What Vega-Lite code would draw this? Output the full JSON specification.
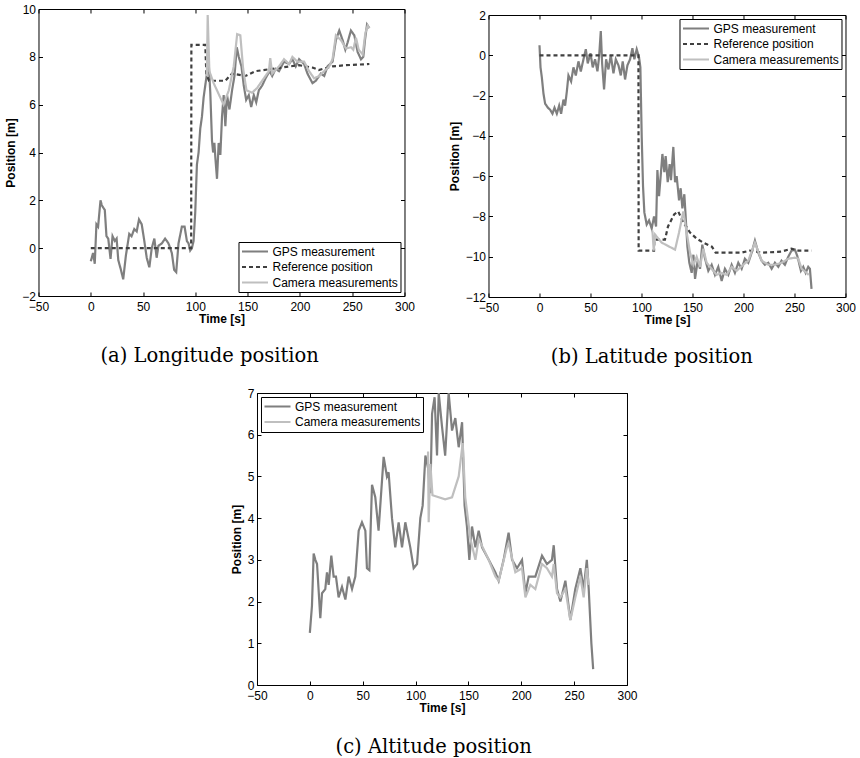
{
  "$schema": "https://vega.github.io/schema/vega-lite/v6.json",
  "background": "white",
  "padding": {"left": 4, "top": 3, "right": 0, "bottom": 0},
  "config": {
    "font": "Liberation Sans",
    "view": {"stroke": null},
    "axis": {"labelFont": "Liberation Sans", "labelFontSize": 12, "labelColor": "black", "titleFont": "Liberation Sans", "titleFontSize": 12, "titleFontWeight": "bold", "titleColor": "black", "domainColor": "black", "domainWidth": 1, "tickColor": "black", "tickSize": -4, "tickWidth": 1, "grid": false, "labelOverlap": false, "labelFlush": false, "labelBound": false},
    "axisX": {"labelPadding": 9, "titlePadding": 1},
    "axisY": {"labelPadding": 7, "titlePadding": 4},
    "legend": {"labelFont": "Liberation Sans", "labelFontSize": 12, "labelColor": "black", "symbolSize": 676, "symbolStrokeWidth": 2.2, "symbolType": "stroke", "clipHeight": 15, "rowPadding": 0.5, "padding": 2, "strokeColor": "black", "fillColor": "white", "offset": 4, "labelOffset": 3, "symbolOffset": 0, "cornerRadius": 0, "labelLimit": 400},
    "title": {"font": "DejaVu Serif", "fontSize": 19.5, "fontWeight": "normal", "color": "black", "orient": "bottom", "anchor": "middle", "frame": "bounds", "offset": 23}
  },
  "datasets": {
    "lon": [
      {"t":0,"v":-0.55,"s":"GPS measurement"},{"t":2.2,"v":-0.2,"s":"GPS measurement"},{"t":3.8,"v":-0.65,"s":"GPS measurement"},{"t":5.4,"v":1.0,"s":"GPS measurement"},{"t":7,"v":0.9,"s":"GPS measurement"},{"t":9.3,"v":2.0,"s":"GPS measurement"},{"t":10.5,"v":1.8,"s":"GPS measurement"},{"t":11.8,"v":1.7,"s":"GPS measurement"},{"t":13.4,"v":1.6,"s":"GPS measurement"},{"t":15,"v":0.5,"s":"GPS measurement"},{"t":16.7,"v":0.4,"s":"GPS measurement"},{"t":18.9,"v":-0.45,"s":"GPS measurement"},{"t":20.8,"v":0.5,"s":"GPS measurement"},{"t":23,"v":0.3,"s":"GPS measurement"},{"t":24.7,"v":0.4,"s":"GPS measurement"},{"t":26.3,"v":-0.5,"s":"GPS measurement"},{"t":28.8,"v":-0.9,"s":"GPS measurement"},{"t":31,"v":-1.3,"s":"GPS measurement"},{"t":33.6,"v":-0.3,"s":"GPS measurement"},{"t":36.8,"v":0.6,"s":"GPS measurement"},{"t":39,"v":0.5,"s":"GPS measurement"},{"t":41.6,"v":0.8,"s":"GPS measurement"},{"t":43.9,"v":0.7,"s":"GPS measurement"},{"t":46.1,"v":1.2,"s":"GPS measurement"},{"t":48.7,"v":1.0,"s":"GPS measurement"},{"t":51.2,"v":0.3,"s":"GPS measurement"},{"t":53.5,"v":-0.4,"s":"GPS measurement"},{"t":56,"v":-0.8,"s":"GPS measurement"},{"t":58.3,"v":0.0,"s":"GPS measurement"},{"t":60.8,"v":0.4,"s":"GPS measurement"},{"t":63,"v":-0.4,"s":"GPS measurement"},{"t":64.7,"v":0.1,"s":"GPS measurement"},{"t":67.9,"v":0.2,"s":"GPS measurement"},{"t":71.1,"v":0.4,"s":"GPS measurement"},{"t":74.3,"v":0.2,"s":"GPS measurement"},{"t":77.5,"v":-0.2,"s":"GPS measurement"},{"t":79.7,"v":-0.9,"s":"GPS measurement"},{"t":81.7,"v":-1.0,"s":"GPS measurement"},{"t":83.9,"v":0.2,"s":"GPS measurement"},{"t":87.1,"v":0.9,"s":"GPS measurement"},{"t":89.7,"v":0.9,"s":"GPS measurement"},{"t":91.9,"v":0.3,"s":"GPS measurement"},{"t":93.5,"v":0.2,"s":"GPS measurement"},{"t":95.1,"v":-0.1,"s":"GPS measurement"},{"t":96.7,"v":0.0,"s":"GPS measurement"},{"t":98.3,"v":0.3,"s":"GPS measurement"},{"t":99.9,"v":1.5,"s":"GPS measurement"},{"t":101.5,"v":3.5,"s":"GPS measurement"},{"t":103.1,"v":4.0,"s":"GPS measurement"},{"t":104.7,"v":5.0,"s":"GPS measurement"},{"t":106.3,"v":5.5,"s":"GPS measurement"},{"t":107.9,"v":6.3,"s":"GPS measurement"},{"t":110.1,"v":7.0,"s":"GPS measurement"},{"t":112.7,"v":7.8,"s":"GPS measurement"},{"t":114.3,"v":6.5,"s":"GPS measurement"},{"t":115.9,"v":4.5,"s":"GPS measurement"},{"t":117,"v":4.0,"s":"GPS measurement"},{"t":118.2,"v":4.4,"s":"GPS measurement"},{"t":119.1,"v":3.8,"s":"GPS measurement"},{"t":120.7,"v":2.9,"s":"GPS measurement"},{"t":122.3,"v":4.4,"s":"GPS measurement"},{"t":123.9,"v":3.9,"s":"GPS measurement"},{"t":125.5,"v":5.5,"s":"GPS measurement"},{"t":127.1,"v":6.4,"s":"GPS measurement"},{"t":128.7,"v":5.1,"s":"GPS measurement"},{"t":130.3,"v":6.4,"s":"GPS measurement"},{"t":132.6,"v":5.8,"s":"GPS measurement"},{"t":135.1,"v":6.6,"s":"GPS measurement"},{"t":137.4,"v":7.2,"s":"GPS measurement"},{"t":139.6,"v":8.4,"s":"GPS measurement"},{"t":141.5,"v":8.0,"s":"GPS measurement"},{"t":144.1,"v":7.6,"s":"GPS measurement"},{"t":146.3,"v":6.8,"s":"GPS measurement"},{"t":148.6,"v":6.2,"s":"GPS measurement"},{"t":151.1,"v":6.4,"s":"GPS measurement"},{"t":153.4,"v":5.9,"s":"GPS measurement"},{"t":155.9,"v":6.4,"s":"GPS measurement"},{"t":158.2,"v":6.1,"s":"GPS measurement"},{"t":160.7,"v":6.6,"s":"GPS measurement"},{"t":163.9,"v":6.8,"s":"GPS measurement"},{"t":167.1,"v":7.1,"s":"GPS measurement"},{"t":171,"v":7.4,"s":"GPS measurement"},{"t":173.5,"v":7.2,"s":"GPS measurement"},{"t":176.8,"v":7.5,"s":"GPS measurement"},{"t":180,"v":7.4,"s":"GPS measurement"},{"t":184.8,"v":7.8,"s":"GPS measurement"},{"t":189.6,"v":7.7,"s":"GPS measurement"},{"t":192.8,"v":7.9,"s":"GPS measurement"},{"t":196,"v":7.6,"s":"GPS measurement"},{"t":199.2,"v":7.9,"s":"GPS measurement"},{"t":204,"v":7.7,"s":"GPS measurement"},{"t":207.2,"v":7.3,"s":"GPS measurement"},{"t":212,"v":6.9,"s":"GPS measurement"},{"t":215.2,"v":7.0,"s":"GPS measurement"},{"t":220,"v":7.3,"s":"GPS measurement"},{"t":223.2,"v":7.2,"s":"GPS measurement"},{"t":226.4,"v":7.6,"s":"GPS measurement"},{"t":231.2,"v":7.8,"s":"GPS measurement"},{"t":234.4,"v":8.7,"s":"GPS measurement"},{"t":237.6,"v":9.1,"s":"GPS measurement"},{"t":240.8,"v":8.7,"s":"GPS measurement"},{"t":243.4,"v":8.3,"s":"GPS measurement"},{"t":245.6,"v":8.6,"s":"GPS measurement"},{"t":248.8,"v":9.1,"s":"GPS measurement"},{"t":252,"v":8.9,"s":"GPS measurement"},{"t":255.2,"v":8.2,"s":"GPS measurement"},{"t":258.4,"v":7.9,"s":"GPS measurement"},{"t":260.6,"v":8.0,"s":"GPS measurement"},{"t":262.2,"v":8.7,"s":"GPS measurement"},{"t":264.2,"v":9.35,"s":"GPS measurement"},{"t":266.4,"v":9.2,"s":"GPS measurement"},
      {"t":0,"v":0,"s":"Reference position"},{"t":96,"v":0,"s":"Reference position"},{"t":96.2,"v":8.5,"s":"Reference position"},{"t":109.5,"v":8.5,"s":"Reference position"},{"t":110.5,"v":7.3,"s":"Reference position"},{"t":113,"v":7.0,"s":"Reference position"},{"t":128.7,"v":7.0,"s":"Reference position"},{"t":135,"v":7.3,"s":"Reference position"},{"t":148,"v":7.2,"s":"Reference position"},{"t":157.5,"v":7.4,"s":"Reference position"},{"t":173.5,"v":7.5,"s":"Reference position"},{"t":199,"v":7.65,"s":"Reference position"},{"t":212,"v":7.55,"s":"Reference position"},{"t":218,"v":7.45,"s":"Reference position"},{"t":231,"v":7.6,"s":"Reference position"},{"t":244,"v":7.65,"s":"Reference position"},{"t":266.4,"v":7.7,"s":"Reference position"},
      {"t":111,"v":7.2,"s":"Camera measurements"},{"t":111.8,"v":9.75,"s":"Camera measurements"},{"t":113.4,"v":7.4,"s":"Camera measurements"},{"t":117.5,"v":6.9,"s":"Camera measurements"},{"t":127,"v":6.0,"s":"Camera measurements"},{"t":132,"v":6.6,"s":"Camera measurements"},{"t":136.7,"v":7.6,"s":"Camera measurements"},{"t":140,"v":8.95,"s":"Camera measurements"},{"t":143,"v":8.9,"s":"Camera measurements"},{"t":145.7,"v":7.5,"s":"Camera measurements"},{"t":148.9,"v":6.6,"s":"Camera measurements"},{"t":154.3,"v":6.5,"s":"Camera measurements"},{"t":159.1,"v":6.7,"s":"Camera measurements"},{"t":165.5,"v":7.1,"s":"Camera measurements"},{"t":170.3,"v":7.4,"s":"Camera measurements"},{"t":171.6,"v":7.95,"s":"Camera measurements"},{"t":173.5,"v":7.3,"s":"Camera measurements"},{"t":180,"v":7.6,"s":"Camera measurements"},{"t":184.8,"v":7.9,"s":"Camera measurements"},{"t":189.6,"v":7.7,"s":"Camera measurements"},{"t":192.8,"v":8.0,"s":"Camera measurements"},{"t":197.6,"v":7.8,"s":"Camera measurements"},{"t":204,"v":7.8,"s":"Camera measurements"},{"t":208.8,"v":7.4,"s":"Camera measurements"},{"t":213.6,"v":7.1,"s":"Camera measurements"},{"t":218.4,"v":7.2,"s":"Camera measurements"},{"t":223.2,"v":7.4,"s":"Camera measurements"},{"t":228,"v":7.6,"s":"Camera measurements"},{"t":231.2,"v":7.9,"s":"Camera measurements"},{"t":234.4,"v":8.9,"s":"Camera measurements"},{"t":239.2,"v":8.7,"s":"Camera measurements"},{"t":244,"v":8.35,"s":"Camera measurements"},{"t":248.8,"v":8.4,"s":"Camera measurements"},{"t":251,"v":8.3,"s":"Camera measurements"},{"t":253.6,"v":8.8,"s":"Camera measurements"},{"t":256.2,"v":8.3,"s":"Camera measurements"},{"t":260,"v":8.1,"s":"Camera measurements"},{"t":262.6,"v":9.0,"s":"Camera measurements"},{"t":264.8,"v":9.3,"s":"Camera measurements"},{"t":266.4,"v":9.2,"s":"Camera measurements"}
    ],
    "lat": [
      {"t":0,"v":0.5,"s":"GPS measurement"},{"t":1,"v":-0.6,"s":"GPS measurement"},{"t":2.3,"v":-1.1,"s":"GPS measurement"},{"t":3.9,"v":-1.9,"s":"GPS measurement"},{"t":5.5,"v":-2.4,"s":"GPS measurement"},{"t":8.2,"v":-2.6,"s":"GPS measurement"},{"t":10.4,"v":-2.7,"s":"GPS measurement"},{"t":12.7,"v":-2.9,"s":"GPS measurement"},{"t":14.7,"v":-2.6,"s":"GPS measurement"},{"t":17,"v":-2.9,"s":"GPS measurement"},{"t":19.3,"v":-2.5,"s":"GPS measurement"},{"t":21.2,"v":-2.9,"s":"GPS measurement"},{"t":23.5,"v":-2.2,"s":"GPS measurement"},{"t":25.1,"v":-2.5,"s":"GPS measurement"},{"t":26.8,"v":-1.8,"s":"GPS measurement"},{"t":28.4,"v":-1.0,"s":"GPS measurement"},{"t":31,"v":-1.3,"s":"GPS measurement"},{"t":33.3,"v":-0.6,"s":"GPS measurement"},{"t":35.6,"v":-1.0,"s":"GPS measurement"},{"t":38.2,"v":-0.3,"s":"GPS measurement"},{"t":40.5,"v":-0.8,"s":"GPS measurement"},{"t":43.1,"v":-0.2,"s":"GPS measurement"},{"t":45.4,"v":0.3,"s":"GPS measurement"},{"t":47.3,"v":-0.4,"s":"GPS measurement"},{"t":50,"v":0.1,"s":"GPS measurement"},{"t":52.2,"v":-0.6,"s":"GPS measurement"},{"t":54.5,"v":-0.2,"s":"GPS measurement"},{"t":56.8,"v":-0.8,"s":"GPS measurement"},{"t":58.4,"v":-0.1,"s":"GPS measurement"},{"t":60.1,"v":1.2,"s":"GPS measurement"},{"t":61.4,"v":-0.4,"s":"GPS measurement"},{"t":63.3,"v":-1.7,"s":"GPS measurement"},{"t":65.3,"v":-0.2,"s":"GPS measurement"},{"t":67.6,"v":-0.7,"s":"GPS measurement"},{"t":69.9,"v":0.0,"s":"GPS measurement"},{"t":72.5,"v":-0.9,"s":"GPS measurement"},{"t":74.8,"v":-0.2,"s":"GPS measurement"},{"t":77.4,"v":-0.5,"s":"GPS measurement"},{"t":79.7,"v":-1.0,"s":"GPS measurement"},{"t":81.6,"v":-0.3,"s":"GPS measurement"},{"t":83.9,"v":-1.2,"s":"GPS measurement"},{"t":86.2,"v":-0.5,"s":"GPS measurement"},{"t":88.8,"v":-0.2,"s":"GPS measurement"},{"t":91.1,"v":0.35,"s":"GPS measurement"},{"t":93,"v":-0.2,"s":"GPS measurement"},{"t":95.3,"v":0.3,"s":"GPS measurement"},{"t":97.6,"v":-0.1,"s":"GPS measurement"},{"t":98.9,"v":-0.6,"s":"GPS measurement"},{"t":100.2,"v":-4.0,"s":"GPS measurement"},{"t":101.5,"v":-6.5,"s":"GPS measurement"},{"t":102.8,"v":-7.8,"s":"GPS measurement"},{"t":105.1,"v":-8.4,"s":"GPS measurement"},{"t":107.4,"v":-8.2,"s":"GPS measurement"},{"t":110,"v":-8.6,"s":"GPS measurement"},{"t":112.3,"v":-8.0,"s":"GPS measurement"},{"t":114.3,"v":-8.5,"s":"GPS measurement"},{"t":115.6,"v":-5.7,"s":"GPS measurement"},{"t":117.2,"v":-7.0,"s":"GPS measurement"},{"t":118.8,"v":-6.0,"s":"GPS measurement"},{"t":120.5,"v":-4.9,"s":"GPS measurement"},{"t":122.4,"v":-5.8,"s":"GPS measurement"},{"t":123.7,"v":-5.0,"s":"GPS measurement"},{"t":125.7,"v":-6.3,"s":"GPS measurement"},{"t":127.6,"v":-5.4,"s":"GPS measurement"},{"t":128.9,"v":-6.2,"s":"GPS measurement"},{"t":131.2,"v":-4.55,"s":"GPS measurement"},{"t":132.9,"v":-6.3,"s":"GPS measurement"},{"t":134.5,"v":-6.0,"s":"GPS measurement"},{"t":136.8,"v":-7.2,"s":"GPS measurement"},{"t":138.4,"v":-6.6,"s":"GPS measurement"},{"t":140.1,"v":-7.6,"s":"GPS measurement"},{"t":142,"v":-6.9,"s":"GPS measurement"},{"t":143.3,"v":-8.0,"s":"GPS measurement"},{"t":145,"v":-9.5,"s":"GPS measurement"},{"t":146.9,"v":-10.3,"s":"GPS measurement"},{"t":149.2,"v":-10.8,"s":"GPS measurement"},{"t":150.9,"v":-9.9,"s":"GPS measurement"},{"t":152.5,"v":-11.1,"s":"GPS measurement"},{"t":155.1,"v":-10.2,"s":"GPS measurement"},{"t":157.4,"v":-10.6,"s":"GPS measurement"},{"t":159.6,"v":-9.4,"s":"GPS measurement"},{"t":162.3,"v":-10.1,"s":"GPS measurement"},{"t":165.5,"v":-10.7,"s":"GPS measurement"},{"t":168.8,"v":-10.4,"s":"GPS measurement"},{"t":172,"v":-10.9,"s":"GPS measurement"},{"t":175.3,"v":-10.5,"s":"GPS measurement"},{"t":178.6,"v":-11.2,"s":"GPS measurement"},{"t":181.8,"v":-10.6,"s":"GPS measurement"},{"t":185.1,"v":-10.9,"s":"GPS measurement"},{"t":188.4,"v":-10.4,"s":"GPS measurement"},{"t":191.6,"v":-10.8,"s":"GPS measurement"},{"t":194.9,"v":-10.3,"s":"GPS measurement"},{"t":198.2,"v":-10.6,"s":"GPS measurement"},{"t":201.4,"v":-10.1,"s":"GPS measurement"},{"t":204.7,"v":-10.3,"s":"GPS measurement"},{"t":208,"v":-9.8,"s":"GPS measurement"},{"t":211.2,"v":-9.2,"s":"GPS measurement"},{"t":214.5,"v":-9.8,"s":"GPS measurement"},{"t":217.8,"v":-10.2,"s":"GPS measurement"},{"t":221,"v":-10.4,"s":"GPS measurement"},{"t":224.3,"v":-10.3,"s":"GPS measurement"},{"t":227.6,"v":-10.6,"s":"GPS measurement"},{"t":230.8,"v":-10.3,"s":"GPS measurement"},{"t":234.1,"v":-10.5,"s":"GPS measurement"},{"t":237.3,"v":-10.2,"s":"GPS measurement"},{"t":240.6,"v":-10.4,"s":"GPS measurement"},{"t":243.9,"v":-10.0,"s":"GPS measurement"},{"t":247.1,"v":-9.7,"s":"GPS measurement"},{"t":250.4,"v":-9.65,"s":"GPS measurement"},{"t":253,"v":-10.0,"s":"GPS measurement"},{"t":256.3,"v":-10.7,"s":"GPS measurement"},{"t":258.6,"v":-10.5,"s":"GPS measurement"},{"t":260.9,"v":-10.8,"s":"GPS measurement"},{"t":263.5,"v":-10.5,"s":"GPS measurement"},{"t":265.1,"v":-10.6,"s":"GPS measurement"},{"t":266.7,"v":-11.6,"s":"GPS measurement"},
      {"t":0,"v":0,"s":"Reference position"},{"t":97,"v":0,"s":"Reference position"},{"t":97.2,"v":-9.7,"s":"Reference position"},{"t":112.3,"v":-9.7,"s":"Reference position"},{"t":112.6,"v":-9.15,"s":"Reference position"},{"t":123,"v":-9.15,"s":"Reference position"},{"t":126,"v":-8.5,"s":"Reference position"},{"t":132,"v":-7.9,"s":"Reference position"},{"t":136,"v":-7.75,"s":"Reference position"},{"t":141,"v":-8.3,"s":"Reference position"},{"t":147.6,"v":-8.8,"s":"Reference position"},{"t":154,"v":-9.1,"s":"Reference position"},{"t":160.6,"v":-9.3,"s":"Reference position"},{"t":169,"v":-9.5,"s":"Reference position"},{"t":172.7,"v":-9.8,"s":"Reference position"},{"t":198,"v":-9.8,"s":"Reference position"},{"t":206,"v":-9.7,"s":"Reference position"},{"t":218,"v":-9.8,"s":"Reference position"},{"t":237,"v":-9.75,"s":"Reference position"},{"t":247,"v":-9.6,"s":"Reference position"},{"t":253.7,"v":-9.7,"s":"Reference position"},{"t":266.7,"v":-9.7,"s":"Reference position"},
      {"t":110.7,"v":-8.7,"s":"Camera measurements"},{"t":112,"v":-9.7,"s":"Camera measurements"},{"t":113.3,"v":-8.9,"s":"Camera measurements"},{"t":119.8,"v":-9.3,"s":"Camera measurements"},{"t":132.9,"v":-9.65,"s":"Camera measurements"},{"t":136.8,"v":-8.8,"s":"Camera measurements"},{"t":141,"v":-7.75,"s":"Camera measurements"},{"t":144.3,"v":-8.8,"s":"Camera measurements"},{"t":147.6,"v":-9.8,"s":"Camera measurements"},{"t":150.9,"v":-10.4,"s":"Camera measurements"},{"t":154.1,"v":-10.0,"s":"Camera measurements"},{"t":157.4,"v":-10.5,"s":"Camera measurements"},{"t":160.6,"v":-9.6,"s":"Camera measurements"},{"t":163.9,"v":-10.3,"s":"Camera measurements"},{"t":168.8,"v":-10.6,"s":"Camera measurements"},{"t":173.7,"v":-10.9,"s":"Camera measurements"},{"t":178.6,"v":-10.8,"s":"Camera measurements"},{"t":183.5,"v":-10.9,"s":"Camera measurements"},{"t":188.4,"v":-10.5,"s":"Camera measurements"},{"t":193.3,"v":-10.7,"s":"Camera measurements"},{"t":199.8,"v":-10.4,"s":"Camera measurements"},{"t":204.7,"v":-10.2,"s":"Camera measurements"},{"t":211.2,"v":-9.3,"s":"Camera measurements"},{"t":217.8,"v":-10.2,"s":"Camera measurements"},{"t":224.3,"v":-10.4,"s":"Camera measurements"},{"t":230.8,"v":-10.4,"s":"Camera measurements"},{"t":237.3,"v":-10.3,"s":"Camera measurements"},{"t":243.9,"v":-10.1,"s":"Camera measurements"},{"t":250.4,"v":-10.05,"s":"Camera measurements"},{"t":253.7,"v":-10.1,"s":"Camera measurements"},{"t":257,"v":-10.6,"s":"Camera measurements"},{"t":261.8,"v":-10.8,"s":"Camera measurements"},{"t":264,"v":-10.9,"s":"Camera measurements"}
    ],
    "alt": [
      {"t":0,"v":1.25,"s":"GPS measurement"},{"t":2,"v":1.9,"s":"GPS measurement"},{"t":3.6,"v":3.15,"s":"GPS measurement"},{"t":5.2,"v":3.0,"s":"GPS measurement"},{"t":6.8,"v":2.9,"s":"GPS measurement"},{"t":9.9,"v":1.6,"s":"GPS measurement"},{"t":11.5,"v":2.2,"s":"GPS measurement"},{"t":14.6,"v":2.3,"s":"GPS measurement"},{"t":16.2,"v":2.7,"s":"GPS measurement"},{"t":17.8,"v":2.4,"s":"GPS measurement"},{"t":20.3,"v":3.1,"s":"GPS measurement"},{"t":22.5,"v":2.6,"s":"GPS measurement"},{"t":24.7,"v":2.6,"s":"GPS measurement"},{"t":27.2,"v":2.1,"s":"GPS measurement"},{"t":30.4,"v":2.35,"s":"GPS measurement"},{"t":33.6,"v":2.05,"s":"GPS measurement"},{"t":36.7,"v":2.6,"s":"GPS measurement"},{"t":39.9,"v":2.3,"s":"GPS measurement"},{"t":43,"v":2.6,"s":"GPS measurement"},{"t":46.2,"v":3.7,"s":"GPS measurement"},{"t":49.3,"v":3.9,"s":"GPS measurement"},{"t":52.5,"v":3.7,"s":"GPS measurement"},{"t":54,"v":2.8,"s":"GPS measurement"},{"t":56.3,"v":2.75,"s":"GPS measurement"},{"t":58.8,"v":4.8,"s":"GPS measurement"},{"t":61.9,"v":4.5,"s":"GPS measurement"},{"t":65,"v":3.7,"s":"GPS measurement"},{"t":69.8,"v":5.47,"s":"GPS measurement"},{"t":72.9,"v":5.0,"s":"GPS measurement"},{"t":74.5,"v":5.1,"s":"GPS measurement"},{"t":77.7,"v":4.0,"s":"GPS measurement"},{"t":80.8,"v":3.3,"s":"GPS measurement"},{"t":84,"v":3.9,"s":"GPS measurement"},{"t":87.2,"v":3.3,"s":"GPS measurement"},{"t":90.3,"v":3.9,"s":"GPS measurement"},{"t":95,"v":3.3,"s":"GPS measurement"},{"t":98.2,"v":2.8,"s":"GPS measurement"},{"t":101.4,"v":2.9,"s":"GPS measurement"},{"t":104.5,"v":4.0,"s":"GPS measurement"},{"t":106.7,"v":4.3,"s":"GPS measurement"},{"t":109.3,"v":5.5,"s":"GPS measurement"},{"t":111.8,"v":5.2,"s":"GPS measurement"},{"t":114,"v":4.6,"s":"GPS measurement"},{"t":115.6,"v":6.5,"s":"GPS measurement"},{"t":118,"v":6.9,"s":"GPS measurement"},{"t":120.3,"v":5.5,"s":"GPS measurement"},{"t":121.9,"v":7.0,"s":"GPS measurement"},{"t":125,"v":6.2,"s":"GPS measurement"},{"t":128,"v":5.5,"s":"GPS measurement"},{"t":131.3,"v":7.0,"s":"GPS measurement"},{"t":134.5,"v":6.1,"s":"GPS measurement"},{"t":137.6,"v":6.4,"s":"GPS measurement"},{"t":140.8,"v":5.7,"s":"GPS measurement"},{"t":144,"v":6.3,"s":"GPS measurement"},{"t":146.4,"v":4.3,"s":"GPS measurement"},{"t":148.6,"v":3.8,"s":"GPS measurement"},{"t":150.9,"v":3.0,"s":"GPS measurement"},{"t":153.4,"v":3.8,"s":"GPS measurement"},{"t":156.6,"v":3.3,"s":"GPS measurement"},{"t":159.7,"v":3.7,"s":"GPS measurement"},{"t":162.9,"v":3.3,"s":"GPS measurement"},{"t":169.2,"v":3.0,"s":"GPS measurement"},{"t":175.5,"v":2.7,"s":"GPS measurement"},{"t":178.6,"v":2.5,"s":"GPS measurement"},{"t":183.3,"v":3.0,"s":"GPS measurement"},{"t":188,"v":3.65,"s":"GPS measurement"},{"t":191.3,"v":3.0,"s":"GPS measurement"},{"t":196,"v":2.8,"s":"GPS measurement"},{"t":200.7,"v":3.0,"s":"GPS measurement"},{"t":203.9,"v":2.2,"s":"GPS measurement"},{"t":207,"v":2.6,"s":"GPS measurement"},{"t":213.3,"v":2.6,"s":"GPS measurement"},{"t":219.6,"v":3.1,"s":"GPS measurement"},{"t":224.3,"v":2.9,"s":"GPS measurement"},{"t":229,"v":3.0,"s":"GPS measurement"},{"t":230.7,"v":3.35,"s":"GPS measurement"},{"t":233.8,"v":2.3,"s":"GPS measurement"},{"t":237,"v":2.0,"s":"GPS measurement"},{"t":241.7,"v":2.5,"s":"GPS measurement"},{"t":246.4,"v":1.56,"s":"GPS measurement"},{"t":251.1,"v":2.3,"s":"GPS measurement"},{"t":255.9,"v":2.8,"s":"GPS measurement"},{"t":259,"v":2.3,"s":"GPS measurement"},{"t":262,"v":3.0,"s":"GPS measurement"},{"t":263.8,"v":2.3,"s":"GPS measurement"},{"t":266.3,"v":1.0,"s":"GPS measurement"},{"t":268,"v":0.38,"s":"GPS measurement"},
      {"t":111.8,"v":5.6,"s":"Camera measurements"},{"t":112.4,"v":3.9,"s":"Camera measurements"},{"t":114,"v":5.3,"s":"Camera measurements"},{"t":116,"v":4.55,"s":"Camera measurements"},{"t":128,"v":4.45,"s":"Camera measurements"},{"t":134.5,"v":4.5,"s":"Camera measurements"},{"t":140.8,"v":5.0,"s":"Camera measurements"},{"t":144.6,"v":5.8,"s":"Camera measurements"},{"t":147,"v":4.5,"s":"Camera measurements"},{"t":151.9,"v":3.5,"s":"Camera measurements"},{"t":156.6,"v":3.0,"s":"Camera measurements"},{"t":159.7,"v":3.5,"s":"Camera measurements"},{"t":169.2,"v":3.0,"s":"Camera measurements"},{"t":175.5,"v":2.6,"s":"Camera measurements"},{"t":178.6,"v":2.5,"s":"Camera measurements"},{"t":186.4,"v":3.3,"s":"Camera measurements"},{"t":188,"v":3.4,"s":"Camera measurements"},{"t":194.4,"v":2.7,"s":"Camera measurements"},{"t":200.7,"v":2.8,"s":"Camera measurements"},{"t":203.9,"v":2.1,"s":"Camera measurements"},{"t":208.6,"v":2.4,"s":"Camera measurements"},{"t":213.3,"v":2.3,"s":"Camera measurements"},{"t":219.6,"v":2.9,"s":"Camera measurements"},{"t":224.3,"v":2.8,"s":"Camera measurements"},{"t":229,"v":2.6,"s":"Camera measurements"},{"t":230.7,"v":2.9,"s":"Camera measurements"},{"t":233.8,"v":2.2,"s":"Camera measurements"},{"t":237,"v":2.1,"s":"Camera measurements"},{"t":241.7,"v":2.3,"s":"Camera measurements"},{"t":246.4,"v":1.55,"s":"Camera measurements"},{"t":251.1,"v":2.1,"s":"Camera measurements"},{"t":255.9,"v":2.6,"s":"Camera measurements"},{"t":259,"v":2.1,"s":"Camera measurements"},{"t":262,"v":2.8,"s":"Camera measurements"},{"t":263.8,"v":2.4,"s":"Camera measurements"}
    ]
  },
  "vconcat": [
    {
      "hconcat": [
        {
          "width": 366, "height": 287,
          "title": {"text": "(a) Longitude position"},
          "data": {"name": "lon"},
          "layer": [
            {
              "mark": {"type": "line", "strokeWidth": 2.2, "clip": true},
              "encoding": {
                "x": {"field": "t", "type": "quantitative", "scale": {"domain": [-50, 300], "nice": false, "zero": false}, "axis": {"orient": "bottom", "title": "Time [s]", "values": [-50, 0, 50, 100, 150, 200, 250, 300]}},
                "y": {"field": "v", "type": "quantitative", "scale": {"domain": [-2, 10], "nice": false, "zero": false}, "axis": {"orient": "left", "title": "Position [m]", "values": [-2, 0, 2, 4, 6, 8, 10]}},
                "color": {"field": "s", "type": "nominal", "scale": {"domain": ["GPS measurement", "Reference position", "Camera measurements"], "range": ["#7f7f7f", "#404040", "#bfbfbf"]}, "legend": {"title": null, "orient": "bottom-right"}},
                "strokeDash": {"field": "s", "type": "nominal", "scale": {"domain": ["GPS measurement", "Reference position", "Camera measurements"], "range": [[1, 0], [4, 3], [1, 0]]}, "legend": {"title": null, "orient": "bottom-right"}}
              }
            },
            {
              "mark": {"type": "line", "opacity": 0},
              "encoding": {
                "x": {"field": "t", "type": "quantitative", "axis": {"orient": "top", "title": null, "labels": false, "values": [-50, 0, 50, 100, 150, 200, 250, 300]}},
                "y": {"field": "v", "type": "quantitative", "axis": {"orient": "right", "title": null, "labels": false, "values": [-2, 0, 2, 4, 6, 8, 10]}}
              }
            }
          ],
          "resolve": {"axis": {"x": "independent", "y": "independent"}}
        },
        {
          "vconcat": [
            {
              "width": 357, "height": 1,
              "data": {"values": []},
              "mark": {"type": "point", "opacity": 0},
              "encoding": {}
            },
            {
              "width": 357, "height": 282,
              "title": {"text": "(b) Latitude position"},
              "data": {"name": "lat"},
              "layer": [
                {
                  "mark": {"type": "line", "strokeWidth": 2.2, "clip": true},
                  "encoding": {
                    "x": {"field": "t", "type": "quantitative", "scale": {"domain": [-50, 300], "nice": false, "zero": false}, "axis": {"orient": "bottom", "title": "Time [s]", "values": [-50, 0, 50, 100, 150, 200, 250, 300]}},
                    "y": {"field": "v", "type": "quantitative", "scale": {"domain": [-12, 2], "nice": false, "zero": false}, "axis": {"orient": "left", "title": "Position [m]", "values": [-12, -10, -8, -6, -4, -2, 0, 2]}},
                    "color": {"field": "s", "type": "nominal", "scale": {"domain": ["GPS measurement", "Reference position", "Camera measurements"], "range": ["#7f7f7f", "#404040", "#bfbfbf"]}, "legend": {"title": null, "orient": "top-right"}},
                    "strokeDash": {"field": "s", "type": "nominal", "scale": {"domain": ["GPS measurement", "Reference position", "Camera measurements"], "range": [[1, 0], [4, 3], [1, 0]]}, "legend": {"title": null, "orient": "top-right"}}
                  }
                },
                {
                  "mark": {"type": "line", "opacity": 0},
                  "encoding": {
                    "x": {"field": "t", "type": "quantitative", "axis": {"orient": "top", "title": null, "labels": false, "values": [-50, 0, 50, 100, 150, 200, 250, 300]}},
                    "y": {"field": "v", "type": "quantitative", "axis": {"orient": "right", "title": null, "labels": false, "values": [-12, -10, -8, -6, -4, -2, 0, 2]}}
                  }
                }
              ],
              "resolve": {"axis": {"x": "independent", "y": "independent"}}
            }
          ],
          "spacing": -1,
          "resolve": {"scale": {"color": "independent", "strokeDash": "independent"}, "legend": {"color": "independent", "strokeDash": "independent"}}
        }
      ],
      "spacing": 32,
      "resolve": {"scale": {"color": "independent", "strokeDash": "independent"}, "legend": {"color": "independent", "strokeDash": "independent"}}
    },
    {
      "width": 370, "height": 292,
      "title": {"text": "(c) Altitude position", "offset": 25},
      "data": {"name": "alt"},
      "layer": [
        {
          "mark": {"type": "line", "strokeWidth": 2.2, "clip": true},
          "encoding": {
            "x": {"field": "t", "type": "quantitative", "scale": {"domain": [-50, 300], "nice": false, "zero": false}, "axis": {"orient": "bottom", "title": "Time [s]", "values": [-50, 0, 50, 100, 150, 200, 250, 300]}},
            "y": {"field": "v", "type": "quantitative", "scale": {"domain": [0, 7], "nice": false, "zero": false}, "axis": {"orient": "left", "title": "Position [m]", "values": [0, 1, 2, 3, 4, 5, 6, 7]}},
            "color": {"field": "s", "type": "nominal", "scale": {"domain": ["GPS measurement", "Camera measurements"], "range": ["#7f7f7f", "#bfbfbf"]}, "legend": {"title": null, "orient": "top-left"}}
          }
        },
        {
          "mark": {"type": "line", "opacity": 0},
          "encoding": {
            "x": {"field": "t", "type": "quantitative", "axis": {"orient": "top", "title": null, "labels": false, "values": [-50, 0, 50, 100, 150, 200, 250, 300]}},
            "y": {"field": "v", "type": "quantitative", "axis": {"orient": "right", "title": null, "labels": false, "values": [0, 1, 2, 3, 4, 5, 6, 7]}}
          }
        }
      ],
      "resolve": {"axis": {"x": "independent", "y": "independent"}}
    }
  ],
  "spacing": 20,
  "center": true,
  "resolve": {"scale": {"color": "independent", "strokeDash": "independent"}, "legend": {"color": "independent", "strokeDash": "independent"}}
}
